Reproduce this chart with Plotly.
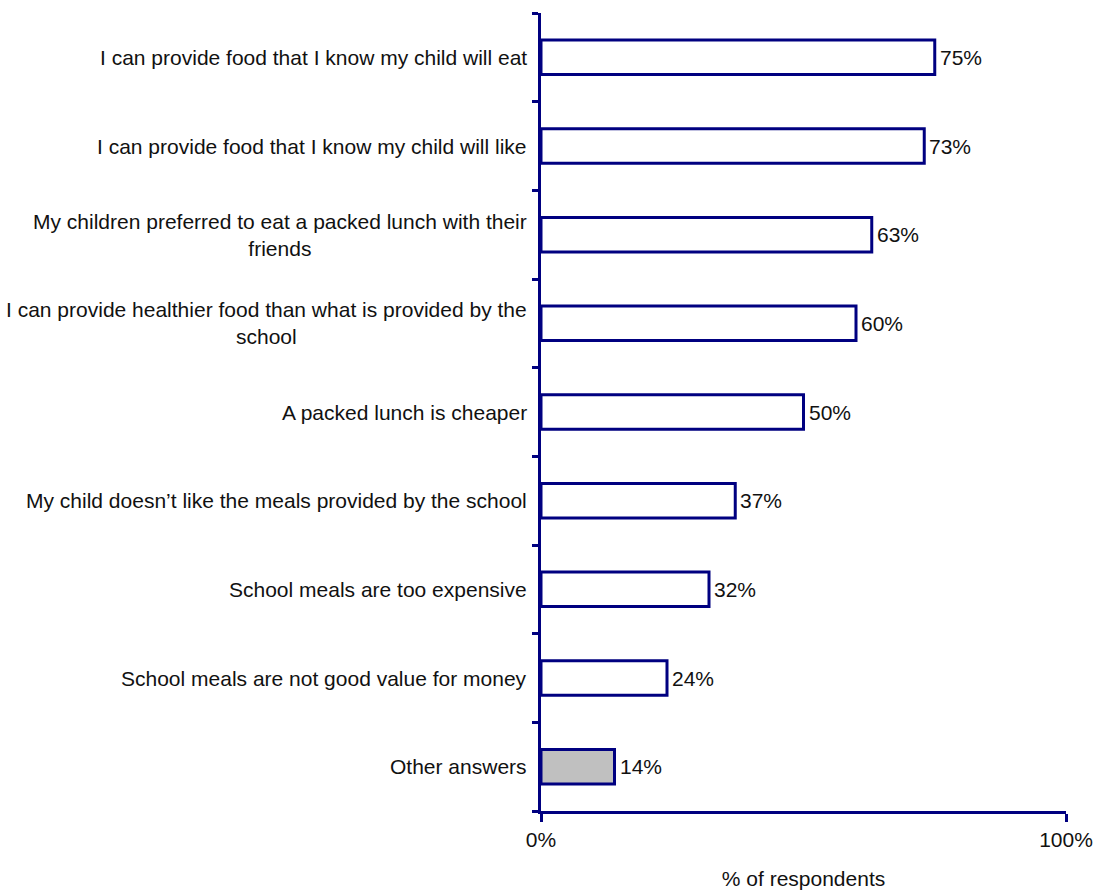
import plotly.graph_objects as go

# Reasons for choosing a packed lunch, listed top to bottom
reasons = [
    "I can provide food that I know my child will eat",
    "I can provide food that I know my child will like",
    "My children preferred to eat a packed lunch with their<br>friends",
    "I can provide healthier food than what is provided by the<br>school",
    "A packed lunch is cheaper",
    "My child doesn\u2019t like the meals provided by the school",
    "School meals are too expensive",
    "School meals are not good value for money",
    "Other answers",
]
percent = [75, 73, 63, 60, 50, 37, 32, 24, 14]
fills = ["white"] * 8 + ["#c0c0c0"]

NAVY = "#000080"
FONT = "Liberation Sans"
FS = 21
TXT = "#111111"

fig = go.Figure()
fig.add_trace(go.Bar(
    y=list(range(len(reasons))),
    x=percent,
    orientation="h",
    width=0.39,
    marker=dict(color=fills, line=dict(color=NAVY, width=3)),
    hoverinfo="skip",
))

# Value labels just right of each bar
for i, v in enumerate(percent):
    fig.add_annotation(
        x=v, xref="x", xanchor="left", xshift=3,
        y=i, yref="y", yanchor="middle",
        text=f"{v}%", showarrow=False,
        font=dict(family=FONT, size=FS, color=TXT),
    )

# Category labels, right-aligned against the axis, lines centred
for i, label in enumerate(reasons):
    fig.add_annotation(
        x=0, xref="paper", xanchor="right", xshift=-12,
        y=i, yref="y", yanchor="middle",
        text=label, showarrow=False, align="center",
        font=dict(family=FONT, size=FS, color=TXT),
    )

fig.update_layout(
    width=1097, height=890,
    margin=dict(l=541, r=31, t=13, b=79, autoexpand=False),
    plot_bgcolor="white", paper_bgcolor="white",
    showlegend=False,
)
fig.update_yaxes(
    range=[8.5, -0.5],
    tickmode="array",
    tickvals=[i - 0.5 for i in range(len(reasons) + 1)],
    showticklabels=False,
    ticks="outside", ticklen=6, tickwidth=3, tickcolor=NAVY,
    showline=True, linecolor=NAVY, linewidth=3,
    showgrid=False, zeroline=False, automargin=False,
)
fig.update_xaxes(
    range=[0, 100],
    tickmode="array", tickvals=[0, 100], ticktext=["0%", "100%"],
    ticks="outside", ticklen=8, tickwidth=3, tickcolor=NAVY,
    tickfont=dict(family=FONT, size=FS, color=TXT),
    showline=True, linecolor=NAVY, linewidth=3,
    showgrid=False, zeroline=False, automargin=False,
    title=dict(text="% of respondents", standoff=22,
               font=dict(family=FONT, size=FS, color=TXT)),
)

fig.write_html("out.html")
